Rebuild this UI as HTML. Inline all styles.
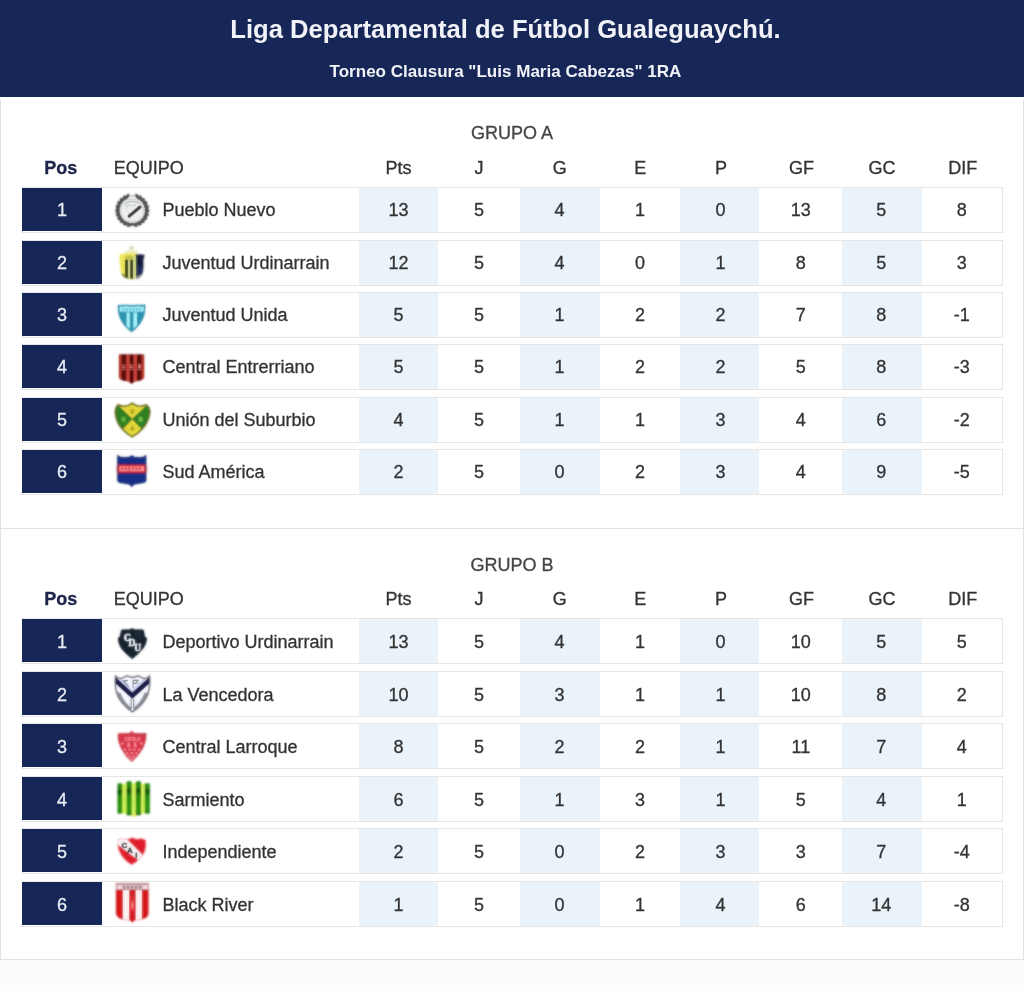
<!DOCTYPE html>
<html><head><meta charset="utf-8"><title>Liga</title>
<style>
html,body{margin:0;padding:0}
body{width:1024px;height:991px;background:#fcfcfc;position:relative;overflow:hidden;font-family:"Liberation Sans",sans-serif;color:#363636;font-size:18px;-webkit-text-stroke:0.3px currentColor}
.top{-webkit-text-stroke:0;position:absolute;left:0;top:0;width:1024px;height:97px;background:#152657;color:#f1f3f8;text-align:center;font-weight:bold}
.t1{position:absolute;left:0;width:1011px;top:13.5px;font-size:25.6px;line-height:30px;white-space:nowrap}
.t2{position:absolute;left:0;width:1011px;top:63px;font-size:17.05px;line-height:18px;white-space:nowrap}
.card{position:absolute;left:0;width:1024px;background:#fff}
.ln{position:absolute;background:#e1e1e1}
.gt{position:absolute;left:0;width:1024px;text-align:center;line-height:21px;color:#454545}
.hd{position:absolute;text-align:center;line-height:21px;color:#333}
.hd.pos{font-weight:bold;color:#20264c}
.row{position:absolute;left:22px;width:981px;height:46px;box-sizing:border-box;border:1px solid #e5e5e5;background:#fff}
.row>div{position:absolute;top:0;height:44px;line-height:44px}
.p{left:-1px;top:0;width:80px;height:43px !important;background:#152657;color:#e9ecf4;text-align:center}
.cr{left:87px;width:46px}
.cr svg{position:absolute;left:0;top:0;width:46px;height:44px;overflow:visible}
.nm{left:139.5px;white-space:nowrap;color:#333}
.c{text-align:center;color:#333}
.t{background:#eaf3fa}
.rb>.c,.rb>.nm,.rb>.p{line-height:46px}
</style></head><body>
<div id="wrap" style="position:absolute;left:0;top:0;width:1024px;height:991px;will-change:transform">
<div class="top"><div class="t1">Liga Departamental de Fútbol Gualeguaychú.</div><div class="t2">Torneo Clausura "Luis Maria Cabezas" 1RA</div></div>
<div class="card" style="top:97px;height:431.5px">
<div class="gt" style="top:25.5px">GRUPO A</div>
<div class="hd pos" style="top:60.5px;left:20.5px;width:80.5px">Pos</div>
<div class="hd" style="top:60.5px;left:113.8px;text-align:left">EQUIPO</div>
<div class="hd" style="top:60.5px;left:358.5px;width:80px">Pts</div>
<div class="hd" style="top:60.5px;left:439.1px;width:80px">J</div>
<div class="hd" style="top:60.5px;left:519.7px;width:80px">G</div>
<div class="hd" style="top:60.5px;left:600.3px;width:80px">E</div>
<div class="hd" style="top:60.5px;left:680.9px;width:80px">P</div>
<div class="hd" style="top:60.5px;left:761.5px;width:80px">GF</div>
<div class="hd" style="top:60.5px;left:842.1px;width:80px">GC</div>
<div class="hd" style="top:60.5px;left:922.7px;width:80px">DIF</div>
<div class="row" style="top:90.0px">
<div class="p">1</div>
<div class="cr"><svg viewBox="0 0 46 44" width="46" height="44"><defs><filter id="fc1" x="-20%" y="-20%" width="140%" height="140%"><feGaussianBlur stdDeviation="0.8"/></filter><g id="bc1"><circle cx="22.3" cy="22.4" r="14.4" fill="none" stroke="#7d807d" stroke-width="2" stroke-dasharray="40.5 7 39 4" stroke-dashoffset="-5.2" opacity="0.28"/><ellipse cx="20.02" cy="36.82" rx="1.25" ry="3.3" transform="rotate(244.0 20.02 36.82)" fill="#3e413e" opacity="0.92"/><ellipse cx="16.36" cy="35.74" rx="1.25" ry="3.3" transform="rotate(259.0 16.36 35.74)" fill="#3e413e" opacity="0.92"/><ellipse cx="13.11" cy="33.75" rx="1.25" ry="3.3" transform="rotate(274.0 13.11 33.75)" fill="#3e413e" opacity="0.92"/><ellipse cx="10.49" cy="30.98" rx="1.25" ry="3.3" transform="rotate(289.0 10.49 30.98)" fill="#3e413e" opacity="0.92"/><ellipse cx="8.67" cy="27.63" rx="1.25" ry="3.3" transform="rotate(304.0 8.67 27.63)" fill="#3e413e" opacity="0.92"/><ellipse cx="7.78" cy="23.93" rx="1.25" ry="3.3" transform="rotate(319.0 7.78 23.93)" fill="#3e413e" opacity="0.92"/><ellipse cx="7.88" cy="20.12" rx="1.25" ry="3.3" transform="rotate(334.0 7.88 20.12)" fill="#3e413e" opacity="0.92"/><ellipse cx="8.96" cy="16.46" rx="1.25" ry="3.3" transform="rotate(349.0 8.96 16.46)" fill="#3e413e" opacity="0.92"/><ellipse cx="10.95" cy="13.21" rx="1.25" ry="3.3" transform="rotate(364.0 10.95 13.21)" fill="#3e413e" opacity="0.92"/><ellipse cx="13.72" cy="10.59" rx="1.25" ry="3.3" transform="rotate(379.0 13.72 10.59)" fill="#3e413e" opacity="0.92"/><ellipse cx="17.07" cy="8.77" rx="1.25" ry="3.3" transform="rotate(394.0 17.07 8.77)" fill="#3e413e" opacity="0.92"/><ellipse cx="24.58" cy="36.82" rx="1.25" ry="3.3" transform="rotate(116.0 24.58 36.82)" fill="#3e413e" opacity="0.92"/><ellipse cx="28.24" cy="35.74" rx="1.25" ry="3.3" transform="rotate(101.0 28.24 35.74)" fill="#3e413e" opacity="0.92"/><ellipse cx="31.49" cy="33.75" rx="1.25" ry="3.3" transform="rotate(86.0 31.49 33.75)" fill="#3e413e" opacity="0.92"/><ellipse cx="34.11" cy="30.98" rx="1.25" ry="3.3" transform="rotate(71.0 34.11 30.98)" fill="#3e413e" opacity="0.92"/><ellipse cx="35.93" cy="27.63" rx="1.25" ry="3.3" transform="rotate(56.0 35.93 27.63)" fill="#3e413e" opacity="0.92"/><ellipse cx="36.82" cy="23.93" rx="1.25" ry="3.3" transform="rotate(41.0 36.82 23.93)" fill="#3e413e" opacity="0.92"/><ellipse cx="36.72" cy="20.12" rx="1.25" ry="3.3" transform="rotate(26.0 36.72 20.12)" fill="#3e413e" opacity="0.92"/><ellipse cx="35.64" cy="16.46" rx="1.25" ry="3.3" transform="rotate(11.0 35.64 16.46)" fill="#3e413e" opacity="0.92"/><ellipse cx="33.65" cy="13.21" rx="1.25" ry="3.3" transform="rotate(-4.0 33.65 13.21)" fill="#3e413e" opacity="0.92"/><ellipse cx="30.88" cy="10.59" rx="1.25" ry="3.3" transform="rotate(-19.0 30.88 10.59)" fill="#3e413e" opacity="0.92"/><ellipse cx="27.53" cy="8.77" rx="1.25" ry="3.3" transform="rotate(-34.0 27.53 8.77)" fill="#3e413e" opacity="0.92"/><circle cx="22.3" cy="22.4" r="11.3" fill="#eef1ee" stroke="#b9bdb9" stroke-width="0.7"/><path d="M15 15.8 Q22 11.2 29.5 15.2" fill="none" stroke="#9da19d" stroke-width="0.9"/><path d="M14.5 17.6 L17.5 17.2 M19 16.8 L22 18 M23 17.8 L26 16.6" stroke="#a5a9a5" stroke-width="0.8" fill="none"/><path d="M16 19 L19.5 27.5 M16 19 L21 17.5" stroke="#cfd3cf" stroke-width="0.7" fill="none"/><line x1="19.2" y1="28.2" x2="30" y2="19" stroke="#262a26" stroke-width="3" stroke-linecap="round"/></g></defs><use href="#bc1" filter="url(#fc1)"/><use href="#bc1" opacity="0.55"/></svg></div>
<div class="nm">Pueblo Nuevo</div>
<div class="t" style="left:335.75px;width:79.45px"></div>
<div class="c" style="left:335.6px;width:80px">13</div>
<div class="c" style="left:416.05px;width:80px">5</div>
<div class="t" style="left:497.4px;width:79.5px"></div>
<div class="c" style="left:496.5px;width:80px">4</div>
<div class="c" style="left:576.95px;width:80px">1</div>
<div class="t" style="left:656.6px;width:79.4px"></div>
<div class="c" style="left:657.4px;width:80px">0</div>
<div class="c" style="left:737.85px;width:80px">13</div>
<div class="t" style="left:818.7px;width:79.9px"></div>
<div class="c" style="left:818.3px;width:80px">5</div>
<div class="c" style="left:898.75px;width:80px">8</div>
</div>
<div class="row" style="top:142.5px">
<div class="p">2</div>
<div class="cr"><svg viewBox="0 0 46 44" width="46" height="44"><defs><filter id="fc2" x="-20%" y="-20%" width="140%" height="140%"><feGaussianBlur stdDeviation="0.8"/></filter><g id="bc2"><circle cx="21.6" cy="6.8" r="1.8" fill="#c4c4aa" opacity="0.7"/><path d="M15.5 10.2 Q21.6 6.5 27.5 10.2 L28 13.8 L14.5 13.8 Z" fill="#e2dfa0" opacity="0.5"/><path d="M9.6 14 Q15 11.5 26 12.5 L26.5 37 Q22 39 18.5 37.5 Q12 35.5 11 31 Q9.6 24 9.6 14 Z" fill="#ece85c"/><path d="M25.6 13.6 Q30 13 34.6 14 Q33 17 33.2 22 Q33.6 30 31.5 34 Q29 37.5 26 37.8 Z" fill="#141d3a"/><path d="M27 25 Q30 24 32.5 27 L31.5 33 Q29 35 27 35 Z" fill="#1f3068" opacity="0.8"/><rect x="15" y="18.6" width="3.3" height="18.4" fill="#1c2603"/><rect x="18.3" y="15" width="1.8" height="21.5" fill="#e3eaa8"/><rect x="20.1" y="18.6" width="3.2" height="19" fill="#1c2603"/><rect x="23.2" y="15" width="2.4" height="22" fill="#d8e29a"/><rect x="15.2" y="14.5" width="8" height="4.5" fill="#b4b43c" opacity="0.75"/><path d="M11 32 Q13 36.5 19 38 L15 34 Z" fill="#77792c"/><path d="M26 35.5 L32 33 Q30 37.5 26 38 Z" fill="#8f9090"/></g></defs><use href="#bc2" filter="url(#fc2)"/><use href="#bc2" opacity="0.35"/></svg></div>
<div class="nm">Juventud Urdinarrain</div>
<div class="t" style="left:335.75px;width:79.45px"></div>
<div class="c" style="left:335.6px;width:80px">12</div>
<div class="c" style="left:416.05px;width:80px">5</div>
<div class="t" style="left:497.4px;width:79.5px"></div>
<div class="c" style="left:496.5px;width:80px">4</div>
<div class="c" style="left:576.95px;width:80px">0</div>
<div class="t" style="left:656.6px;width:79.4px"></div>
<div class="c" style="left:657.4px;width:80px">1</div>
<div class="c" style="left:737.85px;width:80px">8</div>
<div class="t" style="left:818.7px;width:79.9px"></div>
<div class="c" style="left:818.3px;width:80px">5</div>
<div class="c" style="left:898.75px;width:80px">3</div>
</div>
<div class="row" style="top:195.0px">
<div class="p">3</div>
<div class="cr"><svg viewBox="0 0 46 44" width="46" height="44"><defs><filter id="fc3" x="-20%" y="-20%" width="140%" height="140%"><feGaussianBlur stdDeviation="0.8"/></filter><g id="bc3"><clipPath id="k3"><path d="M8.7 12.6 Q10.5 13.6 12.3 12.4 Q14.2 13.6 16.2 12.2 Q18.8 13.6 21.6 12.6 Q24.4 13.6 27 12.2 Q29 13.6 31 12.4 Q32.8 13.6 34.5 12.4 Q34.8 20 32 26 Q28.5 33 21.6 38.2 Q14.5 33 11.2 26 Q8.4 20 8.7 12.6 Z"/></clipPath><g clip-path="url(#k3)"><rect x="8" y="11" width="28" height="28" fill="#2b93b1"/><rect x="16.6" y="19" width="3.2" height="20" fill="#a6f3fb"/><rect x="23.4" y="19" width="3.6" height="20" fill="#a6f3fb"/><rect x="8" y="11" width="28" height="8" fill="#a4eef8"/><rect x="8" y="18.6" width="28" height="0.9" fill="#3a9cb8"/><g fill="#5fc4d8"><rect x="12.5" y="15" width="2" height="2.6"/><rect x="15.8" y="15" width="2" height="2.6"/><rect x="19.3" y="15" width="1.8" height="2.6"/><rect x="22.6" y="15" width="2" height="2.6"/><rect x="26" y="15" width="1.8" height="2.6"/><rect x="29" y="15" width="2" height="2.6"/></g></g><path d="M8.7 12.6 Q10.5 13.6 12.3 12.4 Q14.2 13.6 16.2 12.2 Q18.8 13.6 21.6 12.6 Q24.4 13.6 27 12.2 Q29 13.6 31 12.4 Q32.8 13.6 34.5 12.4 Q34.8 20 32 26 Q28.5 33 21.6 38.2 Q14.5 33 11.2 26 Q8.4 20 8.7 12.6 Z" fill="none" stroke="#2c8ea9" stroke-width="1.3"/></g></defs><use href="#bc3" filter="url(#fc3)"/><use href="#bc3" opacity="0.45"/></svg></div>
<div class="nm">Juventud Unida</div>
<div class="t" style="left:335.75px;width:79.45px"></div>
<div class="c" style="left:335.6px;width:80px">5</div>
<div class="c" style="left:416.05px;width:80px">5</div>
<div class="t" style="left:497.4px;width:79.5px"></div>
<div class="c" style="left:496.5px;width:80px">1</div>
<div class="c" style="left:576.95px;width:80px">2</div>
<div class="t" style="left:656.6px;width:79.4px"></div>
<div class="c" style="left:657.4px;width:80px">2</div>
<div class="c" style="left:737.85px;width:80px">7</div>
<div class="t" style="left:818.7px;width:79.9px"></div>
<div class="c" style="left:818.3px;width:80px">8</div>
<div class="c" style="left:898.75px;width:80px">-1</div>
</div>
<div class="row" style="top:247.0px">
<div class="p">4</div>
<div class="cr"><svg viewBox="0 0 46 44" width="46" height="44"><defs><filter id="fc4" x="-20%" y="-20%" width="140%" height="140%"><feGaussianBlur stdDeviation="0.8"/></filter><g id="bc4"><clipPath id="k4"><path d="M9 9.8 L34.1 9.8 L34.1 31.5 Q34 34.2 31 35 L23.5 36.8 L21.6 38.8 L19.7 36.8 L12.2 35 Q9.1 34.2 9 31.5 Z"/></clipPath><g clip-path="url(#k4)"><rect x="8" y="9" width="28" height="31" fill="#b6352b"/><rect x="11.7" y="9" width="4.5" height="31" fill="#560a0a"/><rect x="19.8" y="9" width="3.6" height="31" fill="#4a0606"/><rect x="27" y="9" width="4.4" height="31" fill="#560a0a"/><rect x="16.6" y="9" width="2.8" height="31" fill="#c8443a"/><rect x="23.8" y="9" width="2.8" height="31" fill="#c8443a"/><rect x="8" y="9" width="28" height="1.2" fill="#3a0505" opacity="0.7"/><g fill="#dc7a70"><rect x="12.3" y="19.6" width="3" height="3.6" rx="0.6"/><rect x="20" y="19.6" width="3" height="3.6" rx="0.6"/><rect x="28" y="19.3" width="3" height="4" rx="0.6"/><rect x="12" y="24" width="3.6" height="0.9"/><rect x="19.8" y="24" width="3.6" height="0.9"/><rect x="27.8" y="24" width="3.6" height="0.9"/></g><g fill="#6a1010"><rect x="13.2" y="20.6" width="2.2" height="1.4"/><rect x="21" y="20.6" width="2.1" height="1.4"/></g></g></g></defs><use href="#bc4" filter="url(#fc4)"/><use href="#bc4" opacity="0.4"/></svg></div>
<div class="nm">Central Entrerriano</div>
<div class="t" style="left:335.75px;width:79.45px"></div>
<div class="c" style="left:335.6px;width:80px">5</div>
<div class="c" style="left:416.05px;width:80px">5</div>
<div class="t" style="left:497.4px;width:79.5px"></div>
<div class="c" style="left:496.5px;width:80px">1</div>
<div class="c" style="left:576.95px;width:80px">2</div>
<div class="t" style="left:656.6px;width:79.4px"></div>
<div class="c" style="left:657.4px;width:80px">2</div>
<div class="c" style="left:737.85px;width:80px">5</div>
<div class="t" style="left:818.7px;width:79.9px"></div>
<div class="c" style="left:818.3px;width:80px">8</div>
<div class="c" style="left:898.75px;width:80px">-3</div>
</div>
<div class="row" style="top:300.0px">
<div class="p">5</div>
<div class="cr"><svg viewBox="0 0 46 44" width="46" height="44"><defs><filter id="fc5" x="-20%" y="-20%" width="140%" height="140%"><feGaussianBlur stdDeviation="0.8"/></filter><g id="bc5"><clipPath id="k5"><path d="M8.1 6.9 Q11.5 8.6 14.8 8.4 Q19.5 8 22.2 5.3 Q25 8 29.6 8.4 Q33 8.6 36.4 6.9 Q40 10 39.6 15 Q38.5 24 32 31 Q27 36.3 22.2 38.7 Q17.5 36.3 12.5 31 Q6 24 5.5 15 Q5.2 10 8.1 6.9 Z"/></clipPath><g clip-path="url(#k5)"><rect x="4" y="4" width="38" height="36" fill="#e3d83a"/><path d="M4 3.5 L22.2 21.1 L8 36 L2 36 Z" fill="#2d7f24"/><path d="M41 3.5 L22.2 21.1 L36.5 36 L43 36 Z" fill="#2d7f24"/><path d="M4 3.5 L22.2 21.1 L41 3.5" fill="none" stroke="#4a6a1a" stroke-width="0.8" opacity="0.6"/><path d="M8 36 L22.2 21.1 L36.5 36" fill="none" stroke="#4a6a1a" stroke-width="0.8" opacity="0.6"/><ellipse cx="13.6" cy="21.3" rx="2.3" ry="2.8" fill="#5fae3a"/><ellipse cx="30.6" cy="21.3" rx="2.3" ry="2.8" fill="#6fb845"/><rect x="20.2" y="11.2" width="4" height="4.8" rx="1.2" fill="#b9a822"/><path d="M22.2 27 L24.6 32.2 L19.8 32.2 Z" fill="#a89a1e"/></g><path d="M8.1 6.9 Q11.5 8.6 14.8 8.4 Q19.5 8 22.2 5.3 Q25 8 29.6 8.4 Q33 8.6 36.4 6.9 Q40 10 39.6 15 Q38.5 24 32 31 Q27 36.3 22.2 38.7 Q17.5 36.3 12.5 31 Q6 24 5.5 15 Q5.2 10 8.1 6.9 Z" fill="none" stroke="#66681c" stroke-width="1.3"/></g></defs><use href="#bc5" filter="url(#fc5)"/><use href="#bc5" opacity="0.4"/></svg></div>
<div class="nm">Unión del Suburbio</div>
<div class="t" style="left:335.75px;width:79.45px"></div>
<div class="c" style="left:335.6px;width:80px">4</div>
<div class="c" style="left:416.05px;width:80px">5</div>
<div class="t" style="left:497.4px;width:79.5px"></div>
<div class="c" style="left:496.5px;width:80px">1</div>
<div class="c" style="left:576.95px;width:80px">1</div>
<div class="t" style="left:656.6px;width:79.4px"></div>
<div class="c" style="left:657.4px;width:80px">3</div>
<div class="c" style="left:737.85px;width:80px">4</div>
<div class="t" style="left:818.7px;width:79.9px"></div>
<div class="c" style="left:818.3px;width:80px">6</div>
<div class="c" style="left:898.75px;width:80px">-2</div>
</div>
<div class="row" style="top:352.0px">
<div class="p">6</div>
<div class="cr"><svg viewBox="0 0 46 44" width="46" height="44"><defs><filter id="fc6" x="-20%" y="-20%" width="140%" height="140%"><feGaussianBlur stdDeviation="0.8"/></filter><g id="bc6"><rect x="6" y="15.2" width="31.5" height="7.4" fill="#ff9a9a" opacity="0.55"/><clipPath id="k6"><path d="M7.8 5.4 Q9.5 7.8 13 7.8 L19 7.6 L21.8 5.8 L24.6 7.6 L30.6 7.8 Q34 7.8 35.8 5.4 L35.8 30.8 Q35.6 32 33.5 32.4 L24 34 L21.8 36.6 L19.6 34 L10 32.4 Q8 32 7.8 30.8 Z"/></clipPath><g clip-path="url(#k6)"><rect x="6" y="4" width="32" height="34" fill="#142d86"/><rect x="6" y="13.6" width="32" height="10.4" fill="#5a1a5a"/><rect x="6" y="14.8" width="32" height="8" fill="#cf2a3c"/><rect x="9.4" y="16.3" width="24.6" height="5" fill="#ff8e8e"/><g fill="#c8283a"><rect x="11.5" y="17.6" width="2" height="2.2"/><rect x="15" y="17.6" width="2" height="2.2"/><rect x="18.6" y="16.3" width="1.2" height="5"/><rect x="22" y="17.6" width="2" height="2.2"/><rect x="25.5" y="17.6" width="2" height="2.2"/><rect x="29" y="17.6" width="2" height="2.2"/></g></g><path d="M7.8 5.4 Q9.5 7.8 13 7.8 L19 7.6 L21.8 5.8 L24.6 7.6 L30.6 7.8 Q34 7.8 35.8 5.4 L35.8 30.8 Q35.6 32 33.5 32.4 L24 34 L21.8 36.6 L19.6 34 L10 32.4 Q8 32 7.8 30.8 Z" fill="none" stroke="#101e5c" stroke-width="0.7"/></g></defs><use href="#bc6" filter="url(#fc6)"/><use href="#bc6" opacity="0.4"/></svg></div>
<div class="nm">Sud América</div>
<div class="t" style="left:335.75px;width:79.45px"></div>
<div class="c" style="left:335.6px;width:80px">2</div>
<div class="c" style="left:416.05px;width:80px">5</div>
<div class="t" style="left:497.4px;width:79.5px"></div>
<div class="c" style="left:496.5px;width:80px">0</div>
<div class="c" style="left:576.95px;width:80px">2</div>
<div class="t" style="left:656.6px;width:79.4px"></div>
<div class="c" style="left:657.4px;width:80px">3</div>
<div class="c" style="left:737.85px;width:80px">4</div>
<div class="t" style="left:818.7px;width:79.9px"></div>
<div class="c" style="left:818.3px;width:80px">9</div>
<div class="c" style="left:898.75px;width:80px">-5</div>
</div>
</div>
<div class="card" style="top:528.5px;height:431.5px">
<div class="gt" style="top:26.5px">GRUPO B</div>
<div class="hd pos" style="top:60.5px;left:20.5px;width:80.5px">Pos</div>
<div class="hd" style="top:60.5px;left:113.8px;text-align:left">EQUIPO</div>
<div class="hd" style="top:60.5px;left:358.5px;width:80px">Pts</div>
<div class="hd" style="top:60.5px;left:439.1px;width:80px">J</div>
<div class="hd" style="top:60.5px;left:519.7px;width:80px">G</div>
<div class="hd" style="top:60.5px;left:600.3px;width:80px">E</div>
<div class="hd" style="top:60.5px;left:680.9px;width:80px">P</div>
<div class="hd" style="top:60.5px;left:761.5px;width:80px">GF</div>
<div class="hd" style="top:60.5px;left:842.1px;width:80px">GC</div>
<div class="hd" style="top:60.5px;left:922.7px;width:80px">DIF</div>
<div class="row rb" style="top:89.5px">
<div class="p">1</div>
<div class="cr"><svg viewBox="0 0 46 44" width="46" height="44"><defs><filter id="fd1" x="-20%" y="-20%" width="140%" height="140%"><feGaussianBlur stdDeviation="0.8"/></filter><g id="bd1"><path d="M22.2 9.7 L24.5 11 L32.8 11.1 Q33.6 11.5 33.6 13 L34.2 17 Q34 18.4 36.4 19.3 Q36.5 24 33 29 Q29 34.5 22.2 39.3 Q15.5 34.5 11.5 29 Q8.4 24 8.5 19.3 Q10.8 18.4 10.6 17 L11.3 13 Q11.3 11.5 12.2 11.1 L20 11 Z" fill="#15222d" stroke="#15222d" stroke-width="0.8" stroke-linejoin="round"/><path d="M24 14 L31 14 M24.5 16 L31.5 16 M27 18.5 L32.5 18.5" stroke="#2d3e4c" stroke-width="0.8"/><g fill="#eef4f8" stroke="#eef4f8" stroke-width="0.55" font-family="Liberation Serif, serif" font-weight="bold" font-size="9.4"><text x="14" y="21.8">C</text><text x="18.6" y="27">D</text><text x="24.2" y="32">U</text></g></g></defs><use href="#bd1" filter="url(#fd1)"/><use href="#bd1" opacity="0.5"/></svg></div>
<div class="nm">Deportivo Urdinarrain</div>
<div class="t" style="left:335.75px;width:79.45px"></div>
<div class="c" style="left:335.6px;width:80px">13</div>
<div class="c" style="left:416.05px;width:80px">5</div>
<div class="t" style="left:497.4px;width:79.5px"></div>
<div class="c" style="left:496.5px;width:80px">4</div>
<div class="c" style="left:576.95px;width:80px">1</div>
<div class="t" style="left:656.6px;width:79.4px"></div>
<div class="c" style="left:657.4px;width:80px">0</div>
<div class="c" style="left:737.85px;width:80px">10</div>
<div class="t" style="left:818.7px;width:79.9px"></div>
<div class="c" style="left:818.3px;width:80px">5</div>
<div class="c" style="left:898.75px;width:80px">5</div>
</div>
<div class="row rb" style="top:142.0px">
<div class="p">2</div>
<div class="cr"><svg viewBox="0 0 46 44" width="46" height="44"><defs><filter id="fd2" x="-20%" y="-20%" width="140%" height="140%"><feGaussianBlur stdDeviation="0.8"/></filter><g id="bd2"><clipPath id="k8"><path d="M5.6 4.4 Q8 7 10.4 6.6 Q13.5 6 16.2 4.2 Q19 4.4 22.5 5.6 Q26 4.4 28.8 4.2 Q31.5 6 34.6 6.6 Q37 7 39.4 4.4 Q40.2 14 38 21 Q35 31 22.5 39.6 Q10 31 7 21 Q4.8 14 5.6 4.4 Z"/></clipPath><path d="M5.6 4.4 Q8 7 10.4 6.6 Q13.5 6 16.2 4.2 Q19 4.4 22.5 5.6 Q26 4.4 28.8 4.2 Q31.5 6 34.6 6.6 Q37 7 39.4 4.4 Q40.2 14 38 21 Q35 31 22.5 39.6 Q10 31 7 21 Q4.8 14 5.6 4.4 Z" fill="#f5f6ff"/><g clip-path="url(#k8)"><path d="M7 20 L10.6 21 Q14 30 21 35.4 L21 39.6 L4 39.6 L4 20 Z" fill="#858790" opacity="0.9"/><path d="M38 20 L34.4 21 Q31 30 24 35.4 L24 39.6 L41 39.6 L41 20 Z" fill="#858790" opacity="0.9"/><rect x="20.6" y="27" width="1.1" height="10" fill="#70737c"/><rect x="23.2" y="27" width="1.1" height="10" fill="#70737c"/><rect x="21.9" y="27" width="1.1" height="11" fill="#fff"/><path d="M9 7.6 L22.2 20.7 L36 7.6 L33 7.2 L22.2 17.8 L11.6 7.2 Z" fill="#c7ccf0"/><path d="M5 4.4 L5 11 L22.3 27 L40 11 L40 4.4 L22.3 20.6 Z" fill="#111242"/><path d="M17.8 8.6 L13.6 8.6 L18.6 14.6" fill="none" stroke="#767981" stroke-width="1.1"/><path d="M23.2 15.8 L23.2 8.4 L28.8 8.4 M23.2 11.4 L27 11.4 L27 9" fill="none" stroke="#767981" stroke-width="1.1"/></g><path d="M5.6 4.4 Q8 7 10.4 6.6 Q13.5 6 16.2 4.2 Q19 4.4 22.5 5.6 Q26 4.4 28.8 4.2 Q31.5 6 34.6 6.6 Q37 7 39.4 4.4 Q40.2 14 38 21 Q35 31 22.5 39.6 Q10 31 7 21 Q4.8 14 5.6 4.4 Z" fill="none" stroke="#6c6f78" stroke-width="1.3"/></g></defs><use href="#bd2" filter="url(#fd2)"/><use href="#bd2" opacity="0.5"/></svg></div>
<div class="nm">La Vencedora</div>
<div class="t" style="left:335.75px;width:79.45px"></div>
<div class="c" style="left:335.6px;width:80px">10</div>
<div class="c" style="left:416.05px;width:80px">5</div>
<div class="t" style="left:497.4px;width:79.5px"></div>
<div class="c" style="left:496.5px;width:80px">3</div>
<div class="c" style="left:576.95px;width:80px">1</div>
<div class="t" style="left:656.6px;width:79.4px"></div>
<div class="c" style="left:657.4px;width:80px">1</div>
<div class="c" style="left:737.85px;width:80px">10</div>
<div class="t" style="left:818.7px;width:79.9px"></div>
<div class="c" style="left:818.3px;width:80px">8</div>
<div class="c" style="left:898.75px;width:80px">2</div>
</div>
<div class="row rb" style="top:194.5px">
<div class="p">3</div>
<div class="cr"><svg viewBox="0 0 46 44" width="46" height="44"><defs><filter id="fd3" x="-20%" y="-20%" width="140%" height="140%"><feGaussianBlur stdDeviation="0.8"/></filter><g id="bd3"><path d="M8.3 9.9 L19.6 9.7 L21.8 7.3 L24 9.7 L35.8 9.9 Q36 18 32 25 Q28 32 21.8 37.4 Q15.5 32 12 25 Q8 18 8.3 9.9 Z" fill="#d33647" stroke="#c23042" stroke-width="0.8"/><rect x="14.6" y="13" width="15.6" height="3.8" fill="#ff8a98" opacity="0.85"/><g fill="#d33647"><rect x="16.2" y="14" width="2" height="1.8"/><rect x="20.6" y="14" width="2" height="1.8"/><rect x="25.6" y="13" width="2.2" height="2.6"/></g><circle cx="12.5" cy="19.6" r="1.25" fill="#ff8a98"/><circle cx="18.6" cy="19.6" r="1.25" fill="#ff8a98"/><circle cx="25.2" cy="19.6" r="1.25" fill="#ff8a98"/><circle cx="31.3" cy="19.6" r="1.25" fill="#ff8a98"/><circle cx="18.6" cy="21.6" r="1.6" fill="#ff8a98"/><circle cx="25.2" cy="21.6" r="1.6" fill="#ff8a98"/><circle cx="15" cy="25.6" r="1.25" fill="#ff8a98"/><circle cx="19.8" cy="25.6" r="1.25" fill="#ff8a98"/><circle cx="24.2" cy="25.6" r="1.25" fill="#ff8a98"/><circle cx="29" cy="25.6" r="1.25" fill="#ff8a98"/><circle cx="17.2" cy="29.2" r="1.25" fill="#ff8a98"/><circle cx="21.8" cy="29.2" r="1.25" fill="#ff8a98"/><circle cx="26.4" cy="29.2" r="1.25" fill="#ff8a98"/><circle cx="19.4" cy="32.6" r="1.25" fill="#ff8a98"/><circle cx="23.8" cy="32.6" r="1.25" fill="#ff8a98"/><circle cx="21.8" cy="35" r="1.25" fill="#ff8a98"/><path d="M33 9.8 L36.6 10.2" stroke="#6a4a52" stroke-width="0.9"/></g></defs><use href="#bd3" filter="url(#fd3)"/><use href="#bd3" opacity="0.3"/></svg></div>
<div class="nm">Central Larroque</div>
<div class="t" style="left:335.75px;width:79.45px"></div>
<div class="c" style="left:335.6px;width:80px">8</div>
<div class="c" style="left:416.05px;width:80px">5</div>
<div class="t" style="left:497.4px;width:79.5px"></div>
<div class="c" style="left:496.5px;width:80px">2</div>
<div class="c" style="left:576.95px;width:80px">2</div>
<div class="t" style="left:656.6px;width:79.4px"></div>
<div class="c" style="left:657.4px;width:80px">1</div>
<div class="c" style="left:737.85px;width:80px">11</div>
<div class="t" style="left:818.7px;width:79.9px"></div>
<div class="c" style="left:818.3px;width:80px">7</div>
<div class="c" style="left:898.75px;width:80px">4</div>
</div>
<div class="row rb" style="top:247.0px">
<div class="p">4</div>
<div class="cr"><svg viewBox="0 0 46 44" width="46" height="44"><defs><filter id="fd4" x="-20%" y="-20%" width="140%" height="140%"><feGaussianBlur stdDeviation="0.8"/></filter><g id="bd4"><defs><linearGradient id="g4" x1="0" y1="0" x2="0" y2="1"><stop offset="0" stop-color="#1d7d0c"/><stop offset="0.14" stop-color="#2a8a12"/><stop offset="0.27" stop-color="#0b4a05"/><stop offset="0.42" stop-color="#1f860c"/><stop offset="0.8" stop-color="#2b9410"/><stop offset="1" stop-color="#1c7a0a"/></linearGradient></defs><rect x="12" y="7" width="23" height="29.5" fill="#cdf055"/><rect x="21.6" y="6.2" width="4.2" height="33" fill="#d0f158"/><path d="M21.4 37 L23.7 40.6 L26 37 Z" fill="#d8e858"/><rect x="7.6" y="6.4" width="4.6" height="30.2" rx="0.8" fill="url(#g4)"/><rect x="16.6" y="4.6" width="5" height="33.6" rx="0.8" fill="url(#g4)"/><rect x="25.8" y="4.6" width="5.2" height="33.6" rx="0.8" fill="url(#g4)"/><rect x="34.8" y="6.4" width="4.9" height="30.2" rx="0.8" fill="url(#g4)"/></g></defs><use href="#bd4" filter="url(#fd4)"/><use href="#bd4" opacity="0.25"/></svg></div>
<div class="nm">Sarmiento</div>
<div class="t" style="left:335.75px;width:79.45px"></div>
<div class="c" style="left:335.6px;width:80px">6</div>
<div class="c" style="left:416.05px;width:80px">5</div>
<div class="t" style="left:497.4px;width:79.5px"></div>
<div class="c" style="left:496.5px;width:80px">1</div>
<div class="c" style="left:576.95px;width:80px">3</div>
<div class="t" style="left:656.6px;width:79.4px"></div>
<div class="c" style="left:657.4px;width:80px">1</div>
<div class="c" style="left:737.85px;width:80px">5</div>
<div class="t" style="left:818.7px;width:79.9px"></div>
<div class="c" style="left:818.3px;width:80px">4</div>
<div class="c" style="left:898.75px;width:80px">1</div>
</div>
<div class="row rb" style="top:299.5px">
<div class="p">5</div>
<div class="cr"><svg viewBox="0 0 46 44" width="46" height="44"><defs><filter id="fd5" x="-20%" y="-20%" width="140%" height="140%"><feGaussianBlur stdDeviation="0.8"/></filter><g id="bd5"><clipPath id="k11"><path d="M8.6 10.6 Q12 9.4 15.7 10.8 Q19 10.6 22 8.8 Q25 10.6 28 10.2 Q31.5 8.8 35.4 11.2 Q36.6 17 34.5 22.5 Q31 30.5 21.6 35.6 Q13 30.5 9.6 22.5 Q6.8 17 8.6 10.6 Z"/></clipPath><path d="M8.6 10.6 Q12 9.4 15.7 10.8 Q19 10.6 22 8.8 Q25 10.6 28 10.2 Q31.5 8.8 35.4 11.2 Q36.6 17 34.5 22.5 Q31 30.5 21.6 35.6 Q13 30.5 9.6 22.5 Q6.8 17 8.6 10.6 Z" fill="#e01a2a" stroke="#f08a94" stroke-width="0.8"/><g clip-path="url(#k11)"><path d="M5 8 L16.8 10 L34 27.2 L28.6 31.6 L6 14.4 Z" fill="#f7f0f2"/><path d="M16.4 10 L34 27.6" stroke="#f4b8c0" stroke-width="0.6" fill="none"/></g><g fill="#1a1216" stroke="#1a1216" stroke-width="0.3" font-family="Liberation Sans, sans-serif" font-weight="bold" font-size="8"><text x="11.6" y="18.5">C</text><text x="17" y="23.7">A</text><text x="25.3" y="28.9">I</text></g></g></defs><use href="#bd5" filter="url(#fd5)"/><use href="#bd5" opacity="0.4"/></svg></div>
<div class="nm">Independiente</div>
<div class="t" style="left:335.75px;width:79.45px"></div>
<div class="c" style="left:335.6px;width:80px">2</div>
<div class="c" style="left:416.05px;width:80px">5</div>
<div class="t" style="left:497.4px;width:79.5px"></div>
<div class="c" style="left:496.5px;width:80px">0</div>
<div class="c" style="left:576.95px;width:80px">2</div>
<div class="t" style="left:656.6px;width:79.4px"></div>
<div class="c" style="left:657.4px;width:80px">3</div>
<div class="c" style="left:737.85px;width:80px">3</div>
<div class="t" style="left:818.7px;width:79.9px"></div>
<div class="c" style="left:818.3px;width:80px">7</div>
<div class="c" style="left:898.75px;width:80px">-4</div>
</div>
<div class="row rb" style="top:352.0px">
<div class="p">6</div>
<div class="cr"><svg viewBox="0 0 46 44" width="46" height="44"><defs><filter id="fd6" x="-20%" y="-20%" width="140%" height="140%"><feGaussianBlur stdDeviation="0.8"/></filter><g id="bd6"><defs><linearGradient id="g6" x1="0" y1="0" x2="0" y2="1"><stop offset="0" stop-color="#c41820"/><stop offset="0.3" stop-color="#e03038"/><stop offset="0.48" stop-color="#ff8888"/><stop offset="0.68" stop-color="#e02028"/><stop offset="1" stop-color="#c81018"/></linearGradient></defs><clipPath id="k12"><path d="M6 1.4 L38.6 1.4 L38.6 31 Q38.4 35.6 33 37 L24 38.6 L22.3 40.5 L20.6 38.6 L11.6 37 Q6.2 35.6 6 31 Z"/></clipPath><g clip-path="url(#k12)"><rect x="5" y="1" width="35" height="40" fill="#fdf1f1"/><rect x="5" y="7.6" width="7.8" height="33" fill="#d81418"/><rect x="31.9" y="7.6" width="7.8" height="33" fill="#d41816"/><rect x="19.3" y="7.8" width="6.3" height="33" fill="#d41820"/><rect x="21" y="8" width="2.8" height="32" fill="url(#g6)"/><rect x="5" y="1" width="35" height="7" fill="#dcbcc2"/><rect x="5" y="1" width="35" height="1.4" fill="#7c646c"/><rect x="5" y="7.2" width="35" height="0.9" fill="#b08088" opacity="0.8"/><g fill="#a88088"><rect x="13" y="4" width="2.4" height="2.6"/><rect x="17" y="4" width="2.4" height="2.6"/><rect x="21" y="4" width="2.4" height="2.6"/><rect x="25" y="4" width="2.4" height="2.6"/><rect x="29" y="4" width="2.4" height="2.6"/></g><rect x="8" y="3.4" width="4" height="3.4" fill="#f6dede"/><rect x="33" y="3.4" width="4" height="3.4" fill="#f6dede"/></g><path d="M6 1.4 L38.6 1.4 L38.6 31 Q38.4 35.6 33 37 L24 38.6 L22.3 40.5 L20.6 38.6 L11.6 37 Q6.2 35.6 6 31 Z" fill="none" stroke="#e8a0a4" stroke-width="0.6"/></g></defs><use href="#bd6" filter="url(#fd6)"/><use href="#bd6" opacity="0.45"/></svg></div>
<div class="nm">Black River</div>
<div class="t" style="left:335.75px;width:79.45px"></div>
<div class="c" style="left:335.6px;width:80px">1</div>
<div class="c" style="left:416.05px;width:80px">5</div>
<div class="t" style="left:497.4px;width:79.5px"></div>
<div class="c" style="left:496.5px;width:80px">0</div>
<div class="c" style="left:576.95px;width:80px">1</div>
<div class="t" style="left:656.6px;width:79.4px"></div>
<div class="c" style="left:657.4px;width:80px">4</div>
<div class="c" style="left:737.85px;width:80px">6</div>
<div class="t" style="left:818.7px;width:79.9px"></div>
<div class="c" style="left:818.3px;width:80px">14</div>
<div class="c" style="left:898.75px;width:80px">-8</div>
</div>
</div>
<div class="ln" style="left:0;top:100px;width:1px;height:860px"></div>
<div class="ln" style="left:1023px;top:100px;width:1px;height:860px"></div>
<div class="ln" style="left:0;top:528px;width:1024px;height:1px"></div>
<div class="ln" style="left:0;top:959px;width:1024px;height:1px"></div>
</div>
</body></html>
